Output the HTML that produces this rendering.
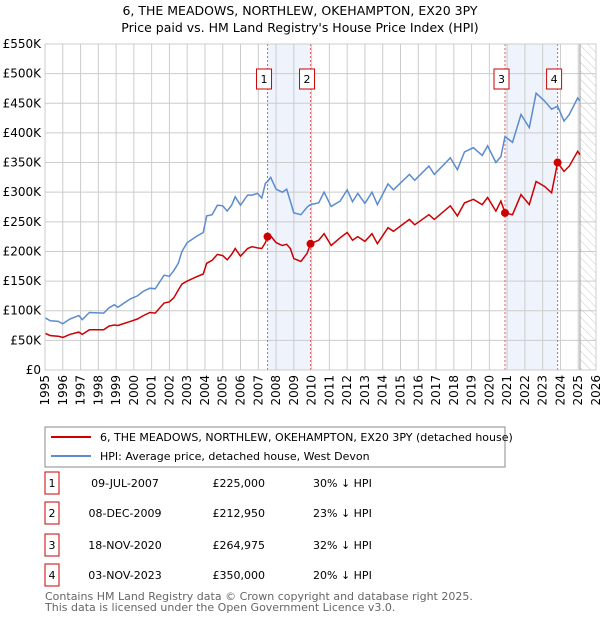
<!DOCTYPE html>
<html><head><meta charset="utf-8"><style>
body{margin:0;background:#fff;font-family:"Liberation Sans","DejaVu Sans",sans-serif;}
svg text{font-family:"DejaVu Sans","Liberation Sans",sans-serif;}
</style></head><body>
<svg id="c" width="600" height="620" xmlns="http://www.w3.org/2000/svg">
<defs><pattern id="hatch" width="6" height="6" patternUnits="userSpaceOnUse" patternTransform="rotate(-45)"><line x1="0" y1="0" x2="0" y2="6" stroke="#bbb" stroke-width="0.8"/></pattern></defs>
<text x="300" y="15" text-anchor="middle" font-size="12.5" fill="#000">6, THE MEADOWS, NORTHLEW, OKEHAMPTON, EX20 3PY</text>
<text x="300" y="32" text-anchor="middle" font-size="12.5" fill="#000">Price paid vs. HM Land Registry's House Price Index (HPI)</text>
<g id="plot"></g>
<rect x="45" y="427" width="460" height="40" fill="#fff" stroke="#888"/>
<line x1="51" y1="437" x2="91" y2="437" stroke="#cc0000" stroke-width="2"/>
<text x="100" y="441" font-size="11">6, THE MEADOWS, NORTHLEW, OKEHAMPTON, EX20 3PY (detached house)</text>
<line x1="51" y1="456" x2="91" y2="456" stroke="#5b8bd0" stroke-width="2"/>
<text x="100" y="460" font-size="11">HPI: Average price, detached house, West Devon</text>
<g id="table"></g>
<text x="45" y="600" font-size="11" fill="#666">Contains HM Land Registry data © Crown copyright and database right 2025.</text>
<text x="45" y="611" font-size="11" fill="#666">This data is licensed under the Open Government Licence v3.0.</text>
</svg>
<script>
const dates=[1995.0,1995.3,1995.75,1996.0,1996.4,1996.9,1997.1,1997.5,1998.3,1998.6,1998.9,1999.1,1999.8,2000.2,2000.55,2000.9,2001.2,2001.7,2002.0,2002.25,2002.5,2002.7,2003.0,2003.5,2003.9,2004.1,2004.4,2004.7,2005.0,2005.25,2005.5,2005.7,2006.0,2006.4,2006.65,2006.95,2007.2,2007.4,2007.52,2007.7,2008.0,2008.35,2008.6,2008.8,2009.0,2009.4,2009.75,2009.94,2010.4,2010.7,2011.1,2011.6,2012.0,2012.3,2012.6,2013.0,2013.4,2013.7,2014.3,2014.6,2015.5,2015.8,2016.6,2016.9,2017.8,2018.2,2018.6,2019.1,2019.6,2019.9,2020.37,2020.65,2020.88,2021.3,2021.78,2022.25,2022.63,2023.1,2023.5,2023.84,2024.2,2024.5,2024.97,2025.1];
const hpi=[88,83,82,78,86,92,85,97,96,105,110,106,120,125,133,138,137,160,158,168,180,200,215,225,232,260,262,278,277,268,278,292,278,295,295,298,290,315,318,325,305,300,305,285,265,262,275,279,282,300,276,285,304,284,298,281,300,279,314,304,330,320,344,330,358,338,368,375,362,378,350,360,394,384,431,409,467,454,440,445,420,431,459,454];
const price=[62,58,57,55,60,64,60,68,68,74,76,75,82,86,92,97,96,113,115,122,135,145,150,157,162,180,185,195,193,186,195,205,192,205,208,206,205,215,225,226,215,210,212,205,188,183,197,213,219,230,210,223,232,219,225,217,230,213,240,234,254,245,262,254,277,260,282,288,279,291,268,285,265,262,296,279,318,310,299,350,335,344,369,363];
const saleDates=[2007.52,2009.94,2020.88,2023.84];
const salePrices=[225000,212950,264975,350000];
const saleLabels=["09-JUL-2007","08-DEC-2009","18-NOV-2020","03-NOV-2023"];
const salePriceText=["£225,000","£212,950","£264,975","£350,000"];
const salePct=["30% ↓ HPI","23% ↓ HPI","32% ↓ HPI","20% ↓ HPI"];
const yTicks=[0,50,100,150,200,250,300,350,400,450,500,550];
const yTickLabels=["£0","£50K","£100K","£150K","£200K","£250K","£300K","£350K","£400K","£450K","£500K","£550K"];
const xTicks=[1995,1996,1997,1998,1999,2000,2001,2002,2003,2004,2005,2006,2007,2008,2009,2010,2011,2012,2013,2014,2015,2016,2017,2018,2019,2020,2021,2022,2023,2024,2025,2026];
const dataEnd=2025.1;
const X0=45,X1=596,Y0=370,Y1=44;
const xs=y=>X0+(y-1995)/(2026-1995)*(X1-X0);
const ys=v=>Y0-v/550*(Y0-Y1);
const NS="http://www.w3.org/2000/svg";
const plot=document.getElementById('plot');
function mk(tag,attrs,parent){const e=document.createElementNS(NS,tag);for(const k in attrs)e.setAttribute(k,attrs[k]);(parent||plot).appendChild(e);return e;}
let e;
e=mk('rect',{x:X0,y:Y1,width:X1-X0,height:Y0-Y1,fill:'#fff'});


for(const p of [[0,1],[2,3]]){
 e=mk('rect',{x:xs(saleDates[p[0]]),y:Y1,width:xs(saleDates[p[1]])-xs(saleDates[p[0]]),height:Y0-Y1,fill:'#eef3fc'});
 
 
}
e=mk('rect',{x:xs(dataEnd),y:Y1,width:X1-xs(dataEnd),height:Y0-Y1,fill:'url(#hatch)'});


yTicks.forEach((t,i)=>{
 e=mk('line',{x1:X0,x2:X1,y1:ys(t),y2:ys(t),stroke:'#ccc','stroke-width':1});
 
 
 e=mk('text',{x:X0-4,y:ys(t)+4,'text-anchor':'end','font-size':12});
 e.textContent=yTickLabels[i];
 
 
});
xTicks.forEach(t=>{
 e=mk('line',{x1:xs(t),x2:xs(t),y1:Y1,y2:Y0,stroke:'#ccc','stroke-width':1});
 
 
 e=mk('text',{x:0,y:0,'text-anchor':'end','font-size':12,transform:`translate(${xs(t)+4},${Y0+5}) rotate(-90)`});
 e.textContent=t;
 
 
});
e=mk('line',{x1:xs(dataEnd),x2:xs(dataEnd),y1:Y1,y2:Y0,stroke:'#999','stroke-width':1});


saleDates.forEach((d,i)=>{
 e=mk('line',{x1:xs(d),x2:xs(d),y1:Y1,y2:Y0,stroke:'#e06060','stroke-width':1,'stroke-dasharray':'2,2'});
 
 
 e=mk('rect',{x:xs(d)-11,y:69,width:15,height:20,fill:'#fff',stroke:'#cc0000'});
 
 
 e=mk('text',{x:xs(d)-3.5,y:83,'text-anchor':'middle','font-size':11});
 e.textContent=i+1;
 
 
});
const path=arr=>arr.map((v,i)=>(i?'L':'M')+xs(dates[i]).toFixed(1)+','+ys(v).toFixed(1)).join('');
e=mk('path',{d:path(hpi),fill:'none',stroke:'#5b8bd0','stroke-width':1.5});


e=mk('path',{d:path(price),fill:'none',stroke:'#cc0000','stroke-width':1.5});


saleDates.forEach((d,i)=>{
 e=mk('circle',{cx:xs(d),cy:ys(salePrices[i]/1000),r:4,fill:'#cc0000'});
 
 
});
e=mk('rect',{x:X0,y:Y1,width:X1-X0,height:Y0-Y1,fill:'none',stroke:'#ccc'});


const tbl=document.getElementById('table');
const rowY=[483,513,545,575];
saleLabels.forEach((s,i)=>{
 const y=rowY[i];
 e=mk('rect',{x:45,y:y-11,width:14,height:22,fill:'#fff',stroke:'#cc0000'},tbl);
 
 
 e=mk('text',{x:52,y:y+4,'text-anchor':'middle','font-size':11},tbl);
 e.textContent=i+1;
 
 
 e=mk('text',{x:125,y:y+4,'text-anchor':'middle','font-size':11},tbl);
 e.textContent=s;
 
 
 e=mk('text',{x:265,y:y+4,'text-anchor':'end','font-size':11},tbl);
 e.textContent=salePriceText[i];
 
 
 e=mk('text',{x:313,y:y+4,'font-size':11},tbl);
 e.textContent=salePct[i];
 
 
});
</script>
</body></html>
